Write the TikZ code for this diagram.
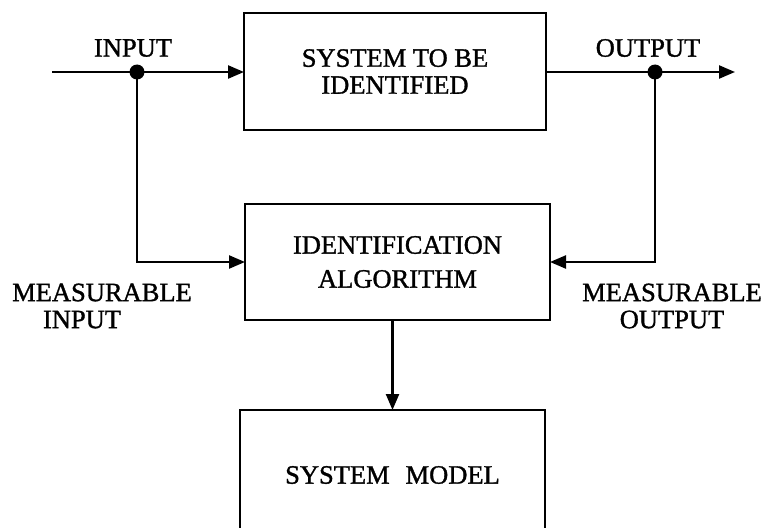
\documentclass[tikz,border=0pt]{standalone}
\usepackage{fontspec}
\setmainfont{Liberation Serif}[BoldFont=Liberation Serif,BoldFeatures={FakeBold=1.2}]
\usetikzlibrary{arrows.meta}
\begin{document}
\begin{tikzpicture}[x=1pt,y=-1pt,
  line width=2.3pt,
  every node/.style={inner sep=0pt,outer sep=0pt,font=\fontsize{26.5}{27}\selectfont\bfseries},
  blk/.style={draw,rectangle,align=center},
  lbl/.style={align=center},
  jdot/.style={circle,fill,minimum size=15pt},
  arr/.style={-{Triangle[length=16pt,width=13pt]}}]
\useasboundingbox (0,0) rectangle (765,527);
\clip (0,0) rectangle (765,527);
\node[blk,minimum width=302pt,minimum height=117pt] (sys) at (395,71.5) {SYSTEM TO BE\\IDENTIFIED};
\node[blk,minimum width=305pt,minimum height=116pt,font=\fontsize{26.5}{34}\selectfont\bfseries] (alg) at (397.5,262) {IDENTIFICATION\\ALGORITHM};
\node[blk,minimum width=305pt,minimum height=130pt] (model) at (392.5,475) {SYSTEM\hspace{0.6em}MODEL};
\coordinate (src) at (52,72);
\node[jdot] (din) at (137,72) {};
\node[jdot] (dout) at (655,72) {};
\coordinate (snk) at (735,72);
\node[lbl] (lin) at (133,48) {INPUT};
\node[lbl] (lout) at (648,48) {OUTPUT};
\node[lbl] (lmin) at (102,306) {MEASURABLE\\INPUT\hspace*{40pt}};
\node[lbl] (lmout) at (672,306) {MEASURABLE\\OUTPUT};
\draw (src) -- (din.center);
\draw[arr] (din.center) -- (sys.west |- din);
\draw (sys.east |- dout) -- (dout.center);
\draw[arr] (dout.center) -- (snk);
\draw[arr] (din.center) |- (alg.west);
\draw[arr] (dout.center) |- (alg.east);
\draw[arr] (model.north |- alg.south) -- (model.north);
\end{tikzpicture}
\end{document}
